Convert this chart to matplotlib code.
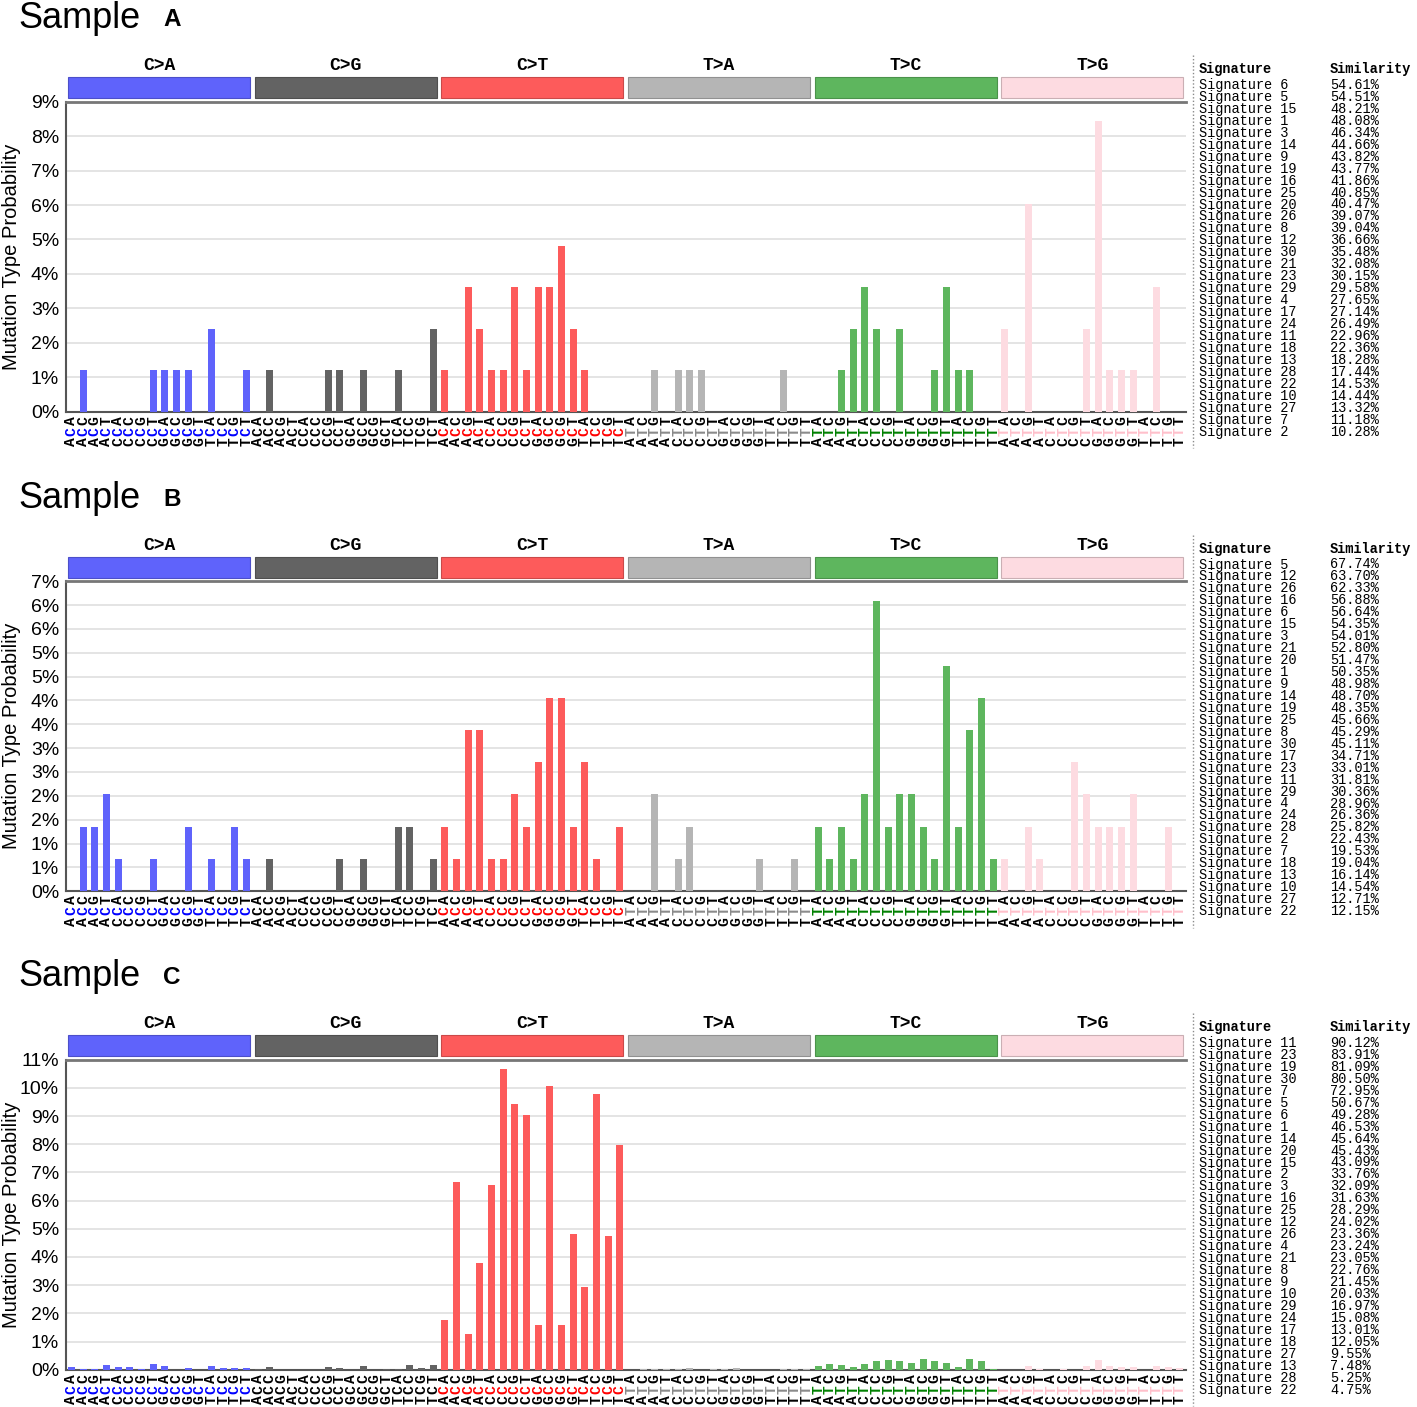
import matplotlib
matplotlib.use("Agg")
import matplotlib.pyplot as plt
import matplotlib.colors as mcolors
from matplotlib.patches import Rectangle
from matplotlib.lines import Line2D
import matplotlib.transforms as mtransforms

# figure size in pixels
W, H = 1417, 1407

mutation_types = ['C>A', 'C>G', 'C>T', 'T>A', 'T>C', 'T>G']
type_colors = ['#5f63fb', '#636363', '#fd5b5b', '#b5b5b5', '#5eb65e', '#fddbe1']
label_colors = ['#0000ff', '#000000', '#ff0000', '#8a8a8a', '#008000', '#ffc0cb']
bases = ['A', 'C', 'G', 'T']

# Sample A (% per trinucleotide context, 16 per mutation type)
A_CA = [0, 1.2, 0, 0, 0, 0, 0, 1.2, 1.2, 1.2, 1.2, 0, 2.41, 0, 0, 1.2]
A_CG = [0, 1.2, 0, 0, 0, 0, 1.2, 1.2, 0, 1.2, 0, 0, 1.2, 0, 0, 2.41]
A_CT = [1.2, 0, 3.61, 2.41, 1.2, 1.2, 3.61, 1.2, 3.61, 3.61, 4.82, 2.41, 1.2, 0, 0, 0]
A_TA = [0, 0, 1.2, 0, 1.2, 1.2, 1.2, 0, 0, 0, 0, 0, 0, 1.2, 0, 0]
A_TC = [0, 0, 1.2, 2.41, 3.61, 2.41, 0, 2.41, 0, 0, 1.2, 3.61, 1.2, 1.2, 0, 0]
A_TG = [2.41, 0, 6.02, 0, 0, 0, 0, 2.41, 8.43, 1.2, 1.2, 1.2, 0, 3.61, 0, 0]

# Sample B
B_CA = [0, 1.35, 1.35, 2.03, 0.68, 0, 0, 0.68, 0, 0, 1.35, 0, 0.68, 0, 1.35, 0.68]
B_CG = [0, 0.68, 0, 0, 0, 0, 0, 0.68, 0, 0.68, 0, 0, 1.35, 1.35, 0, 0.68]
B_CT = [1.35, 0.68, 3.38, 3.38, 0.68, 0.68, 2.03, 1.35, 2.70, 4.05, 4.05, 1.35, 2.70, 0.68, 0, 1.35]
B_TA = [0, 0, 2.03, 0, 0.68, 1.35, 0, 0, 0, 0, 0, 0.68, 0, 0, 0.68, 0]
B_TC = [1.35, 0.68, 1.35, 0.68, 2.03, 6.08, 1.35, 2.03, 2.03, 1.35, 0.68, 4.73, 1.35, 3.38, 4.05, 0.68]
B_TG = [0.68, 0, 1.35, 0.68, 0, 0, 2.70, 2.03, 1.35, 1.35, 1.35, 2.03, 0, 0, 1.35, 0]

# Sample C
C_CA = [0.08, 0.04, 0.04, 0.17, 0.08, 0.08, 0.04, 0.21, 0.12, 0, 0.05, 0, 0.12, 0.05, 0.05, 0.05]
C_CG = [0.04, 0.08, 0, 0, 0, 0, 0.08, 0.05, 0, 0.12, 0, 0.04, 0.04, 0.18, 0.05, 0.18]
C_CT = [1.76, 6.66, 1.28, 3.78, 6.54, 10.66, 9.42, 9.03, 1.60, 10.06, 1.60, 4.81, 2.93, 9.80, 4.73, 7.96]
C_TA = [0, 0.03, 0.04, 0.04, 0.04, 0.06, 0, 0.04, 0.04, 0.06, 0, 0, 0, 0.04, 0.04, 0.04]
C_TC = [0.12, 0.20, 0.18, 0.08, 0.21, 0.30, 0.33, 0.30, 0.25, 0.38, 0.30, 0.25, 0.08, 0.38, 0.30, 0.04]
C_TG = [0, 0, 0.14, 0.03, 0, 0.03, 0, 0.12, 0.33, 0.12, 0.08, 0.08, 0, 0.14, 0.08, 0.05]

# y axes
A_yticks = [0, 1, 2, 3, 4, 5, 6, 7, 8, 9]
A_yticklabels = ['0%', '1%', '2%', '3%', '4%', '5%', '6%', '7%', '8%', '9%']
B_yticks = [0, 0.5, 1, 1.5, 2, 2.5, 3, 3.5, 4, 4.5, 5, 5.5, 6, 6.5]
B_yticklabels = ['0%', '1%', '1%', '2%', '2%', '3%', '3%', '4%', '4%', '5%', '5%', '6%', '6%', '7%']
C_yticks = [0, 1, 2, 3, 4, 5, 6, 7, 8, 9, 10, 11]
C_yticklabels = ['0%', '1%', '2%', '3%', '4%', '5%', '6%', '7%', '8%', '9%', '10%', '11%']

# signature similarity tables
A_sigs = [6, 5, 15, 1, 3, 14, 9, 19, 16, 25, 20, 26, 8, 12, 30, 21, 23, 29, 4, 17, 24, 11, 18, 13, 28, 22, 10, 27, 7, 2]
A_sims = [54.61, 54.51, 48.21, 48.08, 46.34, 44.66, 43.82, 43.77, 41.86, 40.85, 40.47, 39.07, 39.04, 36.66, 35.48,
          32.08, 30.15, 29.58, 27.65, 27.14, 26.49, 22.96, 22.36, 18.28, 17.44, 14.53, 14.44, 13.32, 11.18, 10.28]
B_sigs = [5, 12, 26, 16, 6, 15, 3, 21, 20, 1, 9, 14, 19, 25, 8, 30, 17, 23, 11, 29, 4, 24, 28, 2, 7, 18, 13, 10, 27, 22]
B_sims = [67.74, 63.70, 62.33, 56.88, 56.64, 54.35, 54.01, 52.80, 51.47, 50.35, 48.98, 48.70, 48.35, 45.66, 45.29,
          45.11, 34.71, 33.01, 31.81, 30.36, 28.96, 26.36, 25.82, 22.43, 19.53, 19.04, 16.14, 14.54, 12.71, 12.15]
C_sigs = [11, 23, 19, 30, 7, 5, 6, 1, 14, 20, 15, 2, 3, 16, 25, 12, 26, 4, 21, 8, 9, 10, 29, 24, 17, 18, 27, 13, 28, 22]
C_sims = [90.12, 83.91, 81.09, 80.50, 72.95, 50.67, 49.28, 46.53, 45.64, 45.43, 43.09, 33.76, 32.09, 31.63, 28.29,
          24.02, 23.36, 23.24, 23.05, 22.76, 21.45, 20.03, 16.97, 15.08, 13.01, 12.05, 9.55, 7.48, 5.25, 4.75]

SANS = 'Liberation Sans'
MONO = 'Liberation Mono'
PT = 72.0 / 100  # points per pixel at dpi 100

fig = plt.figure(figsize=(W / 100, H / 100), dpi=100)


def fx(px):
    return px / W


def fy(py):
    return 1 - py / H


def draw_panel(top, name, groups, yticks, yticklabels, sigs, sims):
    ax_top = top + 101.7
    ax_bot = top + 411.7
    ax = fig.add_axes([fx(66), fy(ax_bot), 1120 / W, (ax_bot - ax_top) / H])
    ax_h = ax_bot - ax_top

    values = [v for g in groups for v in g]
    xs = list(range(len(values)))
    colors = [type_colors[i // 16] for i in xs]
    ax.bar(xs, values, width=0.62, color=colors, zorder=3)

    ax.set_xlim(-0.47, 95.53)
    ax.set_ylim(0, yticks[-1])
    ax.set_yticks(yticks)
    ax.set_yticklabels(yticklabels, fontfamily=SANS, fontsize=14)
    ax.tick_params(axis='y', length=0, pad=5)
    ax.set_xticks([])
    ax.yaxis.grid(True, color='#e2e2e2', lw=1.3, zorder=0)
    ax.set_axisbelow(True)
    ax.spines['right'].set_visible(False)
    ax.spines['left'].set_color('#555555')
    ax.spines['left'].set_linewidth(1.5)
    ax.spines['bottom'].set_color('#555555')
    ax.spines['bottom'].set_linewidth(1.5)
    ax.spines['top'].set_color('#777777')
    ax.spines['top'].set_linewidth(2)

    trans = mtransforms.blended_transform_factory(ax.transData, ax.transAxes)
    # mutation type header bars
    for k, mt in enumerate(mutation_types):
        x0 = 16 * k - 0.31
        edge = [c * 0.8 for c in mcolors.to_rgb(type_colors[k])]
        ax.add_patch(Rectangle((x0, 1 + 3.4 / ax_h), 15.62, 21 / ax_h, transform=trans,
                               facecolor=type_colors[k], edgecolor=edge, lw=0.8, clip_on=False))
        ax.text(16 * k + 7.5, 1 + 35.7 / ax_h, mt, transform=trans, ha='center', va='center',
                fontfamily=MONO, fontweight='bold', fontsize=13)

    # trinucleotide labels, rotated, mutated base coloured
    for i in xs:
        k = i // 16
        ref = mutation_types[k][0]
        b5 = bases[(i % 16) // 4]
        b3 = bases[i % 4]
        rows = [(b3, 'black'), (ref, label_colors[k]), (b5, 'black')]
        for j, (ch, col) in enumerate(rows):
            ax.annotate(ch, xy=(i, 0), xycoords=trans,
                        xytext=(0, -(8.8 + j * 10.7) * PT), textcoords='offset points',
                        rotation=90, ha='center', va='center', fontfamily=MONO,
                        fontweight='bold', fontsize=10.5, color=col, annotation_clip=False)

    # y label
    fig.text(fx(12), fy((ax_top + ax_bot) / 2), 'Mutation Type Probability', rotation=90,
             ha='center', va='center', fontfamily=SANS, fontsize=14.5)

    # title
    fig.text(fx(18), fy(top + 28.5), 'Sample', fontfamily=SANS, fontsize=26, va='baseline')
    fig.text(fx(163), fy(top + 26), name, fontfamily=SANS, fontweight='bold', fontsize=17.5,
             va='baseline')

    # signature table
    fig.add_artist(Line2D([fx(1193), fx(1193)], [fy(top + 55), fy(top + 448)], ls=(0, (1, 1.5)),
                          color='#8a8a8a', lw=1))
    fig.text(fx(1199), fy(top + 69), 'Signature', fontfamily=MONO, fontweight='bold',
             fontsize=9.8, va='center')
    fig.text(fx(1330), fy(top + 69), 'Similarity', fontfamily=MONO, fontweight='bold',
             fontsize=9.8, va='center')
    for r, (sg, sm) in enumerate(zip(sigs, sims)):
        yy = fy(top + 85 + r * 11.95)
        fig.text(fx(1199), yy, 'Signature %d' % sg, fontfamily=MONO, fontsize=9.8, va='center')
        fig.text(fx(1330), yy, '%.2f%%' % sm, fontfamily=MONO, fontsize=9.8, va='center')
    return ax


draw_panel(0, 'A', [A_CA, A_CG, A_CT, A_TA, A_TC, A_TG], A_yticks, A_yticklabels, A_sigs, A_sims)
draw_panel(479.5, 'B', [B_CA, B_CG, B_CT, B_TA, B_TC, B_TG], B_yticks, B_yticklabels, B_sigs, B_sims)
draw_panel(958, 'C', [C_CA, C_CG, C_CT, C_TA, C_TC, C_TG], C_yticks, C_yticklabels, C_sigs, C_sims)

fig.savefig('out.png', dpi=100)
